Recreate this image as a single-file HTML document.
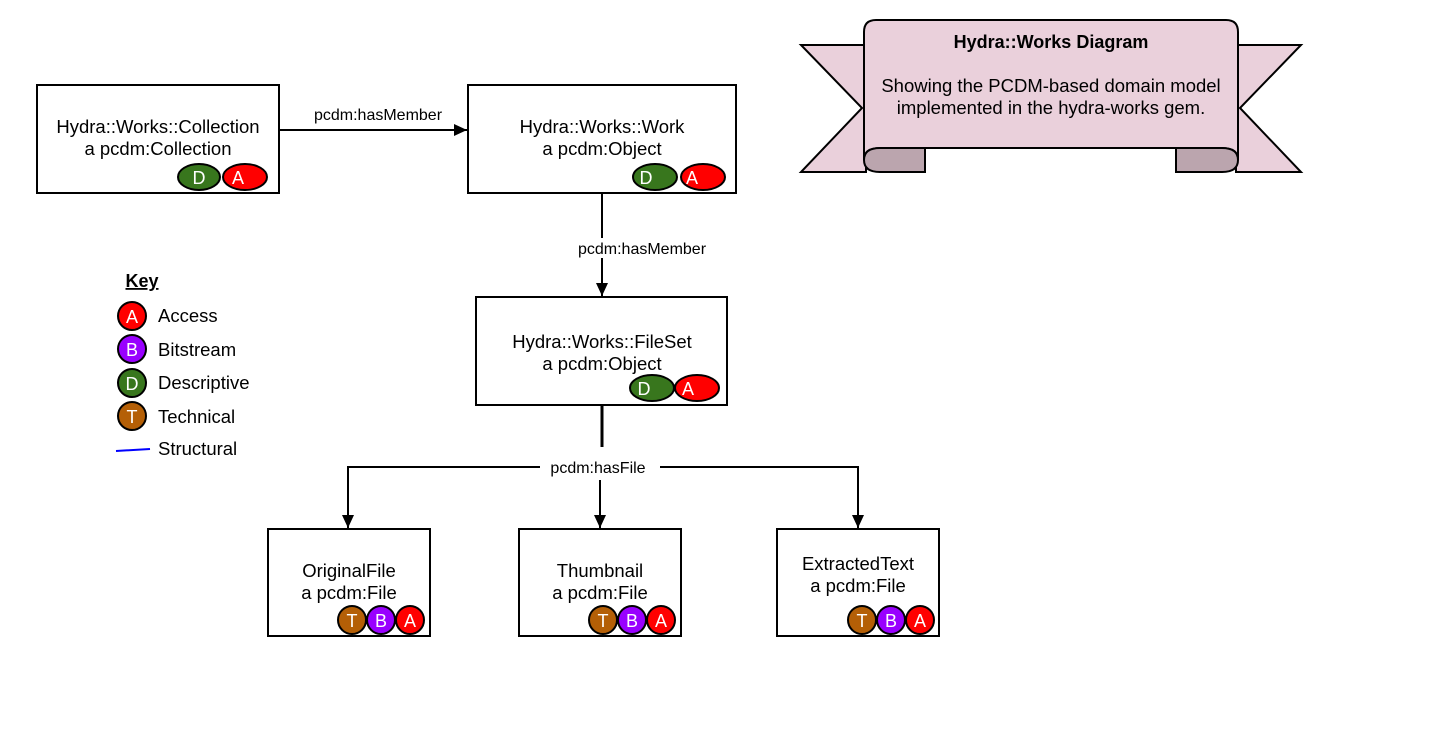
<!DOCTYPE html>
<html><head><style>body{margin:0;background:#fff}svg{display:block}text{font-family:"Liberation Sans",Arial,sans-serif}</style></head><body>
<svg width="1445" height="754" viewBox="0 0 1445 754" xmlns="http://www.w3.org/2000/svg">
<defs><marker id="ah" markerWidth="14" markerHeight="14" refX="13" refY="6" orient="auto" markerUnits="userSpaceOnUse"><path d="M0,0 L13,6 L0,12 z" fill="#000"/></marker></defs>
<!-- banner -->
<g stroke="#000" stroke-width="2">
<path d="M801,45 L866,45 L866,172 L801,172 L862,108 Z" fill="#ead0db"/>
<path d="M1301,45 L1236,45 L1236,172 L1301,172 L1240,108 Z" fill="#ead0db"/>
<path d="M864,32 Q864,20 876,20 L1226,20 Q1238,20 1238,32 L1238,160 Q1238,148 1222,148 L880,148 Q864,148 864,160 Z" fill="#ead0db"/>
<path d="M864,160 Q864,148 880,148 L925,148 L925,172 L880,172 Q864,172 864,160 Z" fill="#bba5ae"/>
<path d="M1238,160 Q1238,148 1222,148 L1176,148 L1176,172 L1222,172 Q1238,172 1238,160 Z" fill="#bba5ae"/>
</g>
<text x="1051" y="48" text-anchor="middle" font-size="18" font-weight="bold">Hydra::Works Diagram</text>
<text x="1051" y="92" text-anchor="middle" font-size="18.5">Showing the PCDM-based domain model</text>
<text x="1051" y="114" text-anchor="middle" font-size="18.5">implemented in the hydra-works gem.</text>
<!-- boxes -->
<g fill="#fff" stroke="#000" stroke-width="2">
<rect x="37" y="85" width="242" height="108"/>
<rect x="468" y="85" width="268" height="108"/>
<rect x="476" y="297" width="251" height="108"/>
<rect x="268" y="529" width="162" height="107"/>
<rect x="519" y="529" width="162" height="107"/>
<rect x="777" y="529" width="162" height="107"/>
</g>
<g font-size="18.5" text-anchor="middle">
<text x="158" y="133">Hydra::Works::Collection</text><text x="158" y="155">a pcdm:Collection</text>
<text x="602" y="133">Hydra::Works::Work</text><text x="602" y="155">a pcdm:Object</text>
<text x="602" y="348">Hydra::Works::FileSet</text><text x="602" y="370">a pcdm:Object</text>
<text x="349" y="577">OriginalFile</text><text x="349" y="599">a pcdm:File</text>
<text x="600" y="577">Thumbnail</text><text x="600" y="599">a pcdm:File</text>
<text x="858" y="570">ExtractedText</text><text x="858" y="592">a pcdm:File</text>
</g>
<!-- connectors -->
<g stroke="#000" stroke-width="2" fill="none">
<line x1="279" y1="130" x2="467" y2="130" marker-end="url(#ah)"/>
<line x1="602" y1="193" x2="602" y2="296" marker-end="url(#ah)"/>
<line x1="602" y1="405" x2="602" y2="447" stroke-width="3"/>
<polyline points="540,467 348,467 348,528" marker-end="url(#ah)"/>
<polyline points="660,467 858,467 858,528" marker-end="url(#ah)"/>
<line x1="600" y1="480" x2="600" y2="528" marker-end="url(#ah)"/>
</g>
<rect x="300" y="104" width="156" height="20" fill="#fff"/>
<text x="378" y="120" text-anchor="middle" font-size="16">pcdm:hasMember</text>
<rect x="574" y="238" width="136" height="20" fill="#fff"/>
<text x="642" y="254" text-anchor="middle" font-size="16">pcdm:hasMember</text>
<text x="598" y="473" text-anchor="middle" font-size="16">pcdm:hasFile</text>
<!-- badges -->
<g stroke="#000" stroke-width="2">
<ellipse cx="199" cy="177" rx="21" ry="13" fill="#38761d"/><ellipse cx="245" cy="177" rx="22" ry="13" fill="#ff0000"/>
<ellipse cx="655" cy="177" rx="22" ry="13" fill="#38761d"/><ellipse cx="703" cy="177" rx="22" ry="13" fill="#ff0000"/>
<ellipse cx="652" cy="388" rx="22" ry="13" fill="#38761d"/><ellipse cx="697" cy="388" rx="22" ry="13" fill="#ff0000"/>
<circle cx="352" cy="620" r="14" fill="#b45f06"/><circle cx="381" cy="620" r="14" fill="#9900ff"/><circle cx="410" cy="620" r="14" fill="#ff0000"/>
<circle cx="603" cy="620" r="14" fill="#b45f06"/><circle cx="632" cy="620" r="14" fill="#9900ff"/><circle cx="661" cy="620" r="14" fill="#ff0000"/>
<circle cx="862" cy="620" r="14" fill="#b45f06"/><circle cx="891" cy="620" r="14" fill="#9900ff"/><circle cx="920" cy="620" r="14" fill="#ff0000"/>
<circle cx="132" cy="316" r="14" fill="#ff0000"/><circle cx="132" cy="349" r="14" fill="#9900ff"/><circle cx="132" cy="383" r="14" fill="#38761d"/><circle cx="132" cy="416" r="14" fill="#b45f06"/>
</g>
<g fill="#fff" font-size="18" text-anchor="middle">
<text x="199" y="184">D</text><text x="238" y="184">A</text>
<text x="646" y="184">D</text><text x="692" y="184">A</text>
<text x="644" y="395">D</text><text x="688" y="395">A</text>
<text x="352" y="627">T</text><text x="381" y="627">B</text><text x="410" y="627">A</text>
<text x="603" y="627">T</text><text x="632" y="627">B</text><text x="661" y="627">A</text>
<text x="862" y="627">T</text><text x="891" y="627">B</text><text x="920" y="627">A</text>
<text x="132" y="323">A</text><text x="132" y="356">B</text><text x="132" y="390">D</text><text x="132" y="423">T</text>
</g>
<text x="142" y="287" text-anchor="middle" font-size="18" font-weight="bold" text-decoration="underline">Key</text>
<g font-size="18.5"><text x="158" y="322">Access</text><text x="158" y="356">Bitstream</text><text x="158" y="389">Descriptive</text><text x="158" y="423">Technical</text><text x="158" y="455">Structural</text></g>
<line x1="116" y1="451" x2="150" y2="449" stroke="#0000ff" stroke-width="2"/>
</svg>
</body></html>
